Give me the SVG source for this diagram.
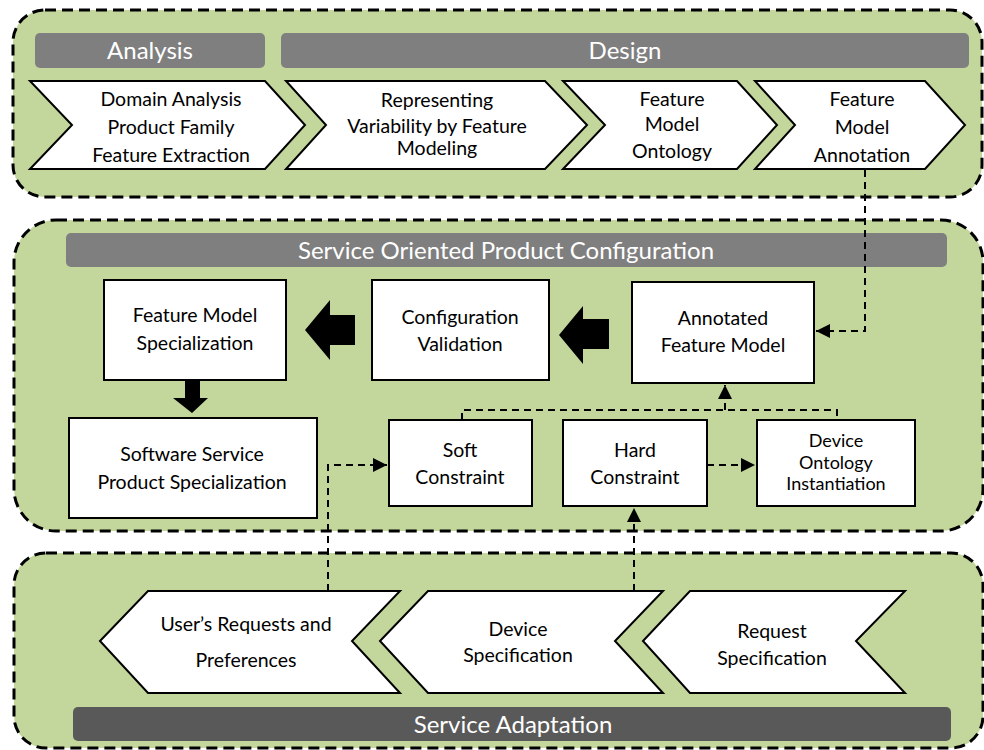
<svg xmlns="http://www.w3.org/2000/svg" width="984" height="750" viewBox="0 0 984 750">
<style>
.panel{fill:#c3d69b;stroke:#000;stroke-width:3;stroke-dasharray:11 6}
.bar{fill:#7f7f7f}
.bar2{fill:#595959}
.hdr{font-family:Lato,"Liberation Sans",sans-serif;font-size:24px;fill:#fff;text-anchor:middle}
.box{fill:#fff;stroke:#000;stroke-width:2}
.t{font-family:Lato,"Liberation Sans",sans-serif;font-size:19.5px;fill:#000;text-anchor:middle}
.con{fill:none;stroke:#000;stroke-width:2;stroke-dasharray:7 5}
.blk{fill:#000}
</style>
<defs>
<marker id="ah" viewBox="0 0 10 10" refX="10" refY="5" markerWidth="7" markerHeight="7" orient="auto" markerUnits="strokeWidth">
<path d="M0,0 L10,5 L0,10 z" fill="#000"/>
</marker>
</defs>
<rect width="984" height="750" fill="#fff"/>

<g id="panel-top">
<rect class="panel" x="13" y="10" width="969" height="187" rx="32"/>
<rect class="bar" x="35" y="33" width="230" height="35" rx="5"/>
<text class="hdr" x="150" y="59">Analysis</text>
<rect class="bar" x="281" y="33" width="688" height="35" rx="5"/>
<text class="hdr" x="625" y="59">Design</text>
</g>

<g id="panel-mid">
<rect class="panel" x="14" y="220" width="969" height="311" rx="42"/>
<rect class="bar" x="66" y="233" width="881" height="34" rx="5"/>
<text class="hdr" x="506" y="259">Service Oriented Product  Configuration</text>
</g>

<g id="panel-bot">
<rect class="panel" x="14" y="553" width="969" height="195" rx="32"/>
<rect class="bar2" x="73" y="707" width="878" height="34" rx="5"/>
<text class="hdr" x="513" y="733">Service Adaptation</text>
</g>

<g id="domain-analysis">
<polygon class="box" points="30,81 265,81 305,125 265,169 30,169 72,125"/>
<text class="t"><tspan x="171" y="106">Domain Analysis</tspan><tspan x="171" y="134">Product Family</tspan><tspan x="171" y="162">Feature Extraction</tspan></text>
</g>
<g id="representing-variability">
<polygon class="box" points="286,81 545,81 587,125 545,169 286,169 326,125"/>
<text class="t"><tspan x="437" y="107">Representing</tspan><tspan x="437" y="133">Variability by Feature</tspan><tspan x="437" y="155">Modeling</tspan></text>
</g>
<g id="fm-ontology">
<polygon class="box" points="563,81 737,81 777,125 737,169 563,169 605,125"/>
<text class="t"><tspan x="672" y="106">Feature</tspan><tspan x="672" y="131">Model</tspan><tspan x="672" y="158">Ontology</tspan></text>
</g>
<g id="fm-annotation">
<polygon class="box" points="755,81 925,81 965,125 925,169 755,169 795,125"/>
<text class="t"><tspan x="862" y="106">Feature</tspan><tspan x="862" y="134">Model</tspan><tspan x="862" y="162">Annotation</tspan></text>
</g>

<g id="fm-specialization">
<rect class="box" x="104" y="280" width="182" height="100"/>
<text class="t"><tspan x="195" y="322">Feature Model</tspan><tspan x="195" y="350">Specialization</tspan></text>
</g>
<g id="config-validation">
<rect class="box" x="372" y="280" width="177" height="100"/>
<text class="t"><tspan x="460" y="324">Configuration</tspan><tspan x="460" y="351">Validation</tspan></text>
</g>
<g id="annotated-fm">
<rect class="box" x="632" y="282" width="182" height="101"/>
<text class="t"><tspan x="723" y="325">Annotated</tspan><tspan x="723" y="352">Feature Model</tspan></text>
</g>
<g id="sw-service-spec">
<rect class="box" x="69" y="418" width="248" height="100"/>
<text class="t"><tspan x="192" y="461">Software Service</tspan><tspan x="192" y="489">Product Specialization</tspan></text>
</g>
<g id="soft-constraint">
<rect class="box" x="389" y="420" width="143" height="86"/>
<text class="t"><tspan x="460" y="457">Soft</tspan><tspan x="460" y="484">Constraint</tspan></text>
</g>
<g id="hard-constraint">
<rect class="box" x="563" y="420" width="144" height="86"/>
<text class="t"><tspan x="635" y="457">Hard</tspan><tspan x="635" y="484">Constraint</tspan></text>
</g>
<g id="device-ontology">
<rect class="box" x="757" y="420" width="158" height="86"/>
<text class="t" style="font-size:18px"><tspan x="836" y="447">Device</tspan><tspan x="836" y="469">Ontology</tspan><tspan x="836" y="490">Instantiation</tspan></text>
</g>

<g id="users-requests">
<polygon class="box" points="100,641 148,591 400,591 352,641 400,693 148,693"/>
<text class="t"><tspan x="246" y="631">User’s Requests and</tspan><tspan x="246" y="667">Preferences</tspan></text>
</g>
<g id="device-spec">
<polygon class="box" points="380,641 428,591 663,591 615,641 663,693 428,693"/>
<text class="t"><tspan x="518" y="636">Device</tspan><tspan x="518" y="662">Specification</tspan></text>
</g>
<g id="request-spec">
<polygon class="box" points="643,641 690,591 905,591 856,641 905,693 690,693"/>
<text class="t"><tspan x="772" y="638">Request</tspan><tspan x="772" y="665">Specification</tspan></text>
</g>

<g id="connectors">
<polygon class="blk" points="305,330 330,300 330,315 355,315 355,345 330,345 330,360"/>
<polygon class="blk" points="559,335 583,306 583,319 609,319 609,349 583,349 583,364"/>
<polygon class="blk" points="185,380 200,380 200,398 208,398 192,413 173,398 185,398"/>
<path class="con" d="M865,170 V331 H816" marker-end="url(#ah)"/>
<path class="con" d="M462,420 V410 H837 V420"/>
<path class="con" d="M725,410 V385" marker-end="url(#ah)"/>
<path class="con" d="M707,465 H755" marker-end="url(#ah)"/>
<path class="con" d="M328,591 V465 H387" marker-end="url(#ah)"/>
<path class="con" d="M634,591 V508" marker-end="url(#ah)"/>
</g>
</svg>
